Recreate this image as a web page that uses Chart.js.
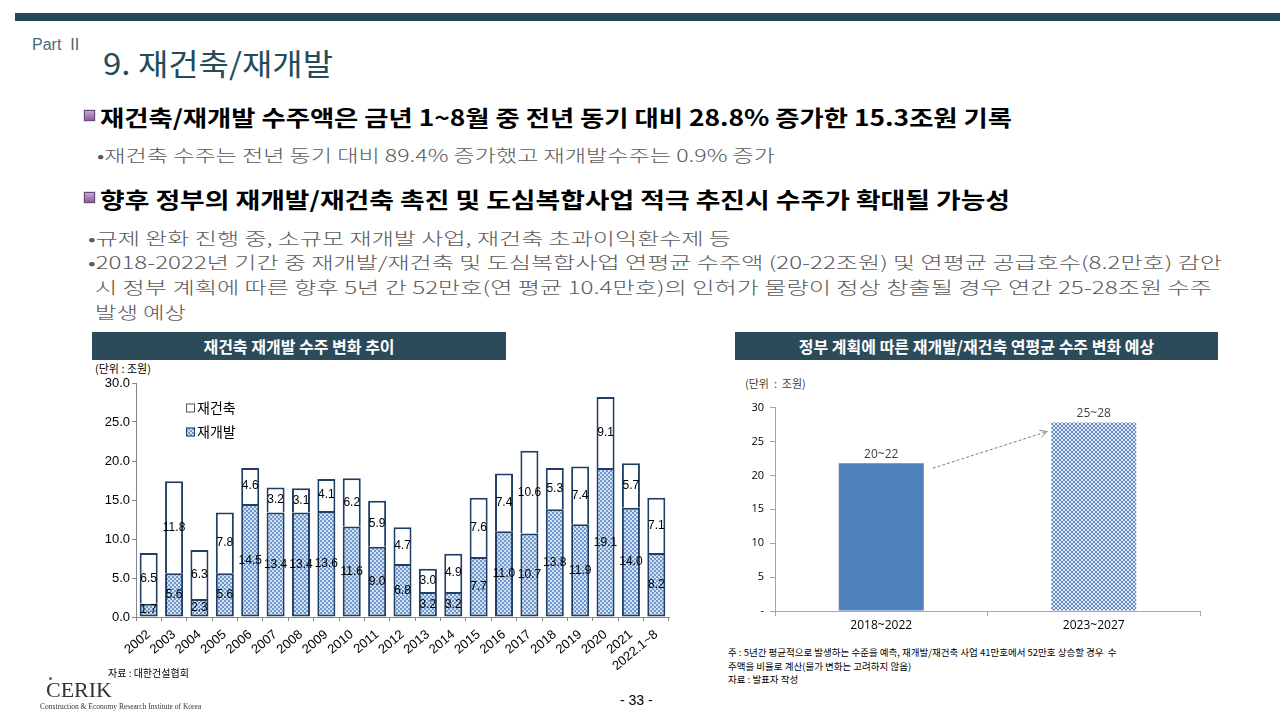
<!DOCTYPE html>
<html><head><meta charset="utf-8">
<script src="https://cdn.jsdelivr.net/npm/chart.js@4.4.1/dist/chart.umd.min.js"></script>
<style>
body{margin:0;width:1280px;height:720px;position:relative;background:#fff;overflow:hidden;font-family:"Noto Sans CJK KR","Noto Sans",sans-serif;}
.t{position:absolute;white-space:nowrap;transform-origin:left center;}
.topbar{position:absolute;left:15px;top:13px;width:1265px;height:8px;background:#244B5A;}
.icon{position:absolute;width:9px;height:9px;background:linear-gradient(#c3a6cf,#8a6299);border:1px solid #6a4a7a;box-shadow:0 0 0 1px #e6dbee;}
.hdr{position:absolute;height:28px;background:#2C4B5A;color:#fff;font-weight:700;font-size:16px;line-height:28px;text-align:center;}
.sub{font-size:17px;line-height:24px;color:#5a5a5a;font-weight:300;}
canvas{position:absolute;}
</style></head>
<body>
<div class="topbar"></div>
<div class="t" style="left:32px;top:34px;font-size:16px;line-height:22px;color:#4A6878;font-family:'Liberation Sans',sans-serif;">Part &nbsp;II</div>
<div class="t" data-w="230" style="left:103px;top:42px;font-size:30px;line-height:40px;color:#244B5A;">9. 재건축/재개발</div>

<div class="icon" style="left:84px;top:110px;"></div>
<div class="t" data-w="912" style="left:100px;top:102px;font-size:22px;line-height:28px;font-weight:700;color:#000;">재건축/재개발 수주액은 금년 1~8월 중 전년 동기 대비 28.8% 증가한 15.3조원 기록</div>
<div class="t sub" data-w="678" style="left:97px;top:143px;">•재건축 수주는 전년 동기 대비 89.4% 증가했고 재개발수주는 0.9% 증가</div>

<div class="icon" style="left:84px;top:192px;"></div>
<div class="t" data-w="910" style="left:100px;top:184px;font-size:22px;line-height:28px;font-weight:700;color:#000;">향후 정부의 재개발/재건축 촉진 및 도심복합사업 적극 추진시 수주가 확대될 가능성</div>
<div class="t sub" data-w="643" style="left:88px;top:226px;">•규제 완화 진행 중, 소규모 재개발 사업, 재건축 초과이익환수제 등</div>
<div class="t sub" data-w="1134" style="left:88px;top:250px;">•2018-2022년 기간 중 재개발/재건축 및 도심복합사업 연평균 수주액 (20-22조원) 및 연평균 공급호수(8.2만호) 감안</div>
<div class="t sub" data-w="1117" style="left:95px;top:275px;">시 정부 계획에 따른 향후 5년 간 52만호(연 평균 10.4만호)의 인허가 물량이 정상 창출될 경우 연간 25-28조원 수주</div>
<div class="t sub" data-w="91" style="left:95px;top:300px;">발생 예상</div>

<div class="hdr" style="left:92px;top:332px;width:414px;">재건축 재개발 수주 변화 추이</div>
<div class="hdr" style="left:735px;top:332px;width:483px;">정부 계획에 따른 재개발/재건축 연평균 수주 변화 예상</div>

<div class="t" style="left:95px;top:361px;font-size:11px;line-height:14px;color:#000;">(단위 : 조원)</div>
<div class="t" style="left:745px;top:375px;font-size:11px;line-height:16px;color:#404040;">(단위 &nbsp;: &nbsp;조원)</div>

<canvas id="c1" width="590" height="300" style="left:90px;top:370px;width:590px;height:300px;"></canvas>
<canvas id="c2" width="490" height="245" style="left:735px;top:395px;width:490px;height:245px;"></canvas>

<div class="t" style="left:108px;top:666px;font-size:10px;line-height:14px;color:#000;">자료 : 대한건설협회</div>
<div class="t" style="left:728px;top:646px;font-size:9.5px;line-height:13.5px;color:#000;">주 : 5년간 평균적으로 발생하는 수준을 예측, 재개발/재건축 사업 41만호에서 52만호 상승할 경우 &nbsp;수<br>주액을 비율로 계산(물가 변화는 고려하지 않음)<br>자료 : 발표자 작성</div>

<div style="position:absolute;left:49px;top:677px;width:3px;height:3px;border-radius:50%;background:#c0392b;"></div>
<div class="t" style="left:46px;top:678px;font-size:22px;line-height:24px;color:#333;font-family:'Liberation Serif',serif;">CERIK</div>
<div class="t" style="left:40px;top:702px;font-size:7.5px;line-height:10px;color:#333;font-family:'Liberation Serif',serif;">Construction &amp; Economy Research Institute of Korea</div>
<div class="t" style="left:620px;top:691px;font-size:14px;line-height:18px;color:#000;font-family:'Liberation Sans',sans-serif;">- 33 -</div>

<script>
// ---- data ----
const years = ['2002','2003','2004','2005','2006','2007','2008','2009','2010','2011','2012','2013','2014','2015','2016','2017','2018','2019','2020','2021','2022.1~8'];
const redevelop = [1.7,5.6,2.3,5.6,14.5,13.4,13.4,13.6,11.6,9.0,6.8,3.2,3.2,7.7,11.0,10.7,13.8,11.9,19.1,14.0,8.2];
const rebuild   = [6.5,11.8,6.3,7.8,4.6,3.2,3.1,4.1,6.2,5.9,4.7,3.0,4.9,7.6,7.4,10.6,5.3,7.4,9.1,5.7,7.1];
const seriesNames = ['재건축','재개발'];
const periods = ['2018~2022','2023~2027'];
const forecast = [21.8, 27.8];
const forecastLabels = ['20~22','25~28'];

// fit text widths
document.querySelectorAll('[data-w]').forEach(el=>{
  const w = el.getBoundingClientRect().width;
  el.style.transform = 'scaleX(' + (parseFloat(el.dataset.w)/w) + ')';
});

function makePattern(c1,c2,s){
  const c=document.createElement('canvas'); c.width=c.height=s*2;
  const g=c.getContext('2d'); g.fillStyle=c2; g.fillRect(0,0,s*2,s*2);
  g.fillStyle=c1; g.fillRect(0,0,s,s); g.fillRect(s,s,s,s);
  return g.createPattern(c,'repeat');
}
const pat1 = makePattern('#6E97CC','#D3E1F2',2);
const pat2 = makePattern('#5F89C4','#E6EDF7',2);
const NUMF = "'Liberation Sans','Noto Sans CJK KR',sans-serif";
const borderCol = '#1F3F66';

const valueLabels = {
  id:'valueLabels',
  afterDatasetsDraw(chart){
    const ctx=chart.ctx; ctx.save();
    ctx.font = "12px " + NUMF; ctx.fillStyle='#000'; ctx.textAlign='center'; ctx.textBaseline='middle';
    chart.data.datasets.forEach((ds,i)=>{
      chart.getDatasetMeta(i).data.forEach((el,j)=>{
        ctx.fillText(ds.data[j].toFixed(1), el.x, (el.y+el.base)/2);
      });
    });
    // legend
    const a=chart.chartArea; const lx=a.left+50;
    const rows=[{n:seriesNames[0],f:'#fff'},{n:seriesNames[1],f:pat1}];
    ctx.font = "14px 'Noto Sans CJK KR',sans-serif"; ctx.textAlign='left';
    rows.forEach((r,k)=>{
      const y=a.top+25+k*24;
      ctx.fillStyle=r.f; ctx.fillRect(lx,y-4.5,9,9);
      ctx.strokeStyle= k===0 ? '#555' : borderCol; ctx.lineWidth=1; ctx.strokeRect(lx+0.5,y-4,8,8);
      ctx.fillStyle='#000'; ctx.fillText(r.n, lx+11, y);
    });
    ctx.restore();
  }
};

new Chart(document.getElementById('c1'), {
  type:'bar',
  data:{ labels:years, datasets:[
    {label:seriesNames[1], data:redevelop, backgroundColor:pat1, borderColor:borderCol, borderWidth:2, borderSkipped:false, categoryPercentage:1, barPercentage:0.71},
    {label:seriesNames[0], data:rebuild, backgroundColor:'#fff', borderColor:borderCol, borderWidth:2, borderSkipped:'bottom', categoryPercentage:1, barPercentage:0.71}
  ]},
  options:{
    responsive:false, animation:false, devicePixelRatio:1,
    layout:{padding:{top:13,right:11,left:0,bottom:0}},
    plugins:{legend:{display:false}, tooltip:{enabled:false}},
    scales:{
      x:{stacked:true,
         grid:{display:true,drawOnChartArea:false,drawTicks:true,tickLength:4,color:'#868686',offset:true},
         border:{display:true,color:'#868686'},
         ticks:{minRotation:40,maxRotation:40,autoSkip:false,color:'#000',font:{size:13,family:NUMF},padding:6},
         afterFit(s){s.height=53;}},
      y:{stacked:true,min:0,max:30,
         grid:{display:true,drawOnChartArea:false,drawTicks:true,tickLength:4,color:'#868686'},
         border:{display:true,color:'#868686'},
         ticks:{stepSize:5,color:'#000',font:{size:13,family:NUMF},padding:2,callback:v=>Number(v).toFixed(1)},
         afterFit(s){s.width=46;}}
    }
  },
  plugins:[valueLabels]
});

const rightDeco = {
  id:'rightDeco',
  afterDatasetsDraw(chart){
    const ctx=chart.ctx; ctx.save();
    const els=chart.getDatasetMeta(0).data;
    ctx.font="12px 'Open Sans','Noto Sans CJK KR',sans-serif"; ctx.fillStyle='#404040'; ctx.textAlign='center'; ctx.textBaseline='bottom';
    els.forEach((el,j)=>ctx.fillText(forecastLabels[j], el.x, el.y-3));
    // dashed arrow
    const a=els[0], b=els[1];
    const x1=a.x+a.width/2+9, y1=a.y+5, x2=b.x-b.width/2-4, y2=b.y+9;
    ctx.strokeStyle='#7F7F7F'; ctx.lineWidth=1; ctx.setLineDash([3,2]);
    ctx.beginPath(); ctx.moveTo(x1,y1); ctx.lineTo(x2,y2); ctx.stroke();
    ctx.setLineDash([]);
    const ang=Math.atan2(y2-y1,x2-x1), L=8;
    ctx.beginPath();
    ctx.moveTo(x2-L*Math.cos(ang-0.45), y2-L*Math.sin(ang-0.45)); ctx.lineTo(x2,y2);
    ctx.lineTo(x2-L*Math.cos(ang+0.45), y2-L*Math.sin(ang+0.45)); ctx.stroke();
    ctx.restore();
  }
};

new Chart(document.getElementById('c2'), {
  type:'bar',
  data:{ labels:periods, datasets:[
    {data:forecast, backgroundColor:['#4F81BD',pat2], borderWidth:0, categoryPercentage:1, barPercentage:0.4}
  ]},
  options:{
    responsive:false, animation:false, devicePixelRatio:1,
    layout:{padding:{top:12,right:25,left:0,bottom:0}},
    plugins:{legend:{display:false}, tooltip:{enabled:false}},
    scales:{
      x:{grid:{display:true,drawOnChartArea:false,drawTicks:true,tickLength:5,color:'#A6A6A6',offset:true},
         border:{display:true,color:'#A6A6A6'},
         ticks:{color:'#000',font:{size:12,family:"'Open Sans',sans-serif"},padding:2},
         afterFit(s){s.height=29;}},
      y:{min:0,max:30,
         grid:{display:true,drawOnChartArea:false,drawTicks:true,tickLength:5,color:'#A6A6A6'},
         border:{display:true,color:'#A6A6A6'},
         ticks:{stepSize:5,color:'#000',font:{size:11,family:"'Open Sans',sans-serif"},padding:6,callback:v=>v===0?'-':v},
         afterFit(s){s.width=40;}}
    }
  },
  plugins:[rightDeco]
});
</script>
</body></html>
